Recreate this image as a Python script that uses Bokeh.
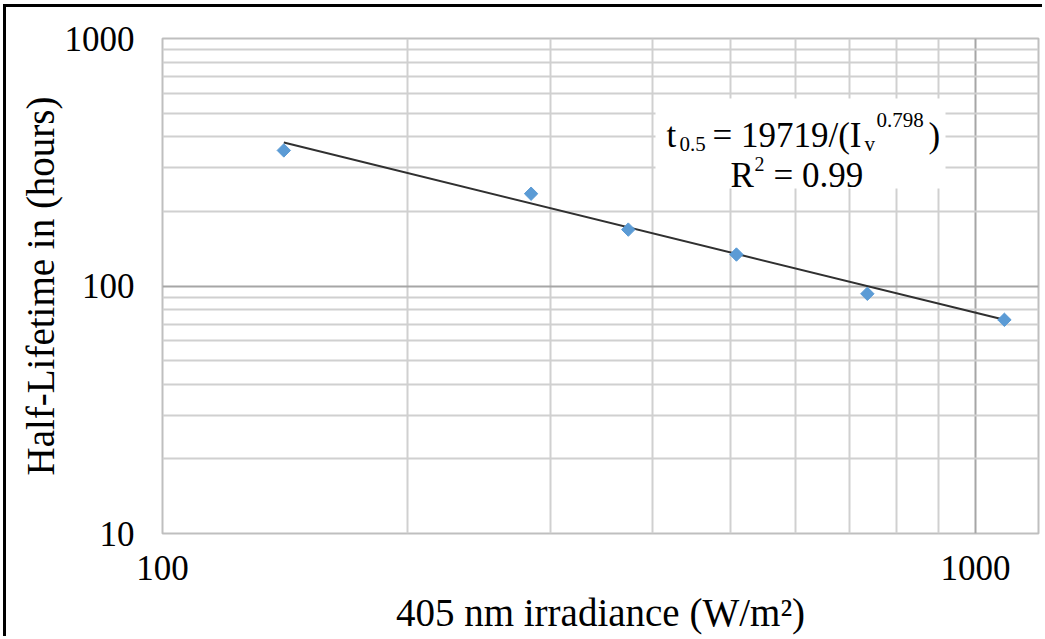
import math
from bokeh.plotting import figure
from bokeh.models import FixedTicker, BasicTickFormatter, Label, BoxAnnotation
from bokeh.embed import file_html
from bokeh.resources import INLINE

# ---- data ----
irradiance = [141, 284, 374, 508, 736, 1085]      # W/m^2
half_life = [353, 236, 169, 134, 93, 73]          # hours
trend_x = [141, 1085]
trend_y = [380, 73]

x_major = [100, 1000]
x_minor = [200, 300, 400, 500, 600, 700, 800, 900]
y_major = [10, 100, 1000]
y_minor = [20, 30, 40, 50, 60, 70, 80, 90, 200, 300, 400, 500, 600, 700, 800, 900]
x_tick_labels = ["100", "1000"]
y_tick_labels = ["10", "100", "1000"]

FONT = "Liberation Serif"

p = figure(width=1039, height=632, x_axis_type="log", y_axis_type="log",
           x_range=(100, 1195), y_range=(10, 1000),
           output_backend="svg", toolbar_location=None,
           min_border_left=156, min_border_right=7, min_border_top=31, min_border_bottom=106)
p.styles = {"border-top": "3px solid black", "border-left": "3px solid black",
            "margin-left": "3px", "margin-top": "4px"}

p.background_fill_color = "white"
p.border_fill_color = "white"
p.outline_line_color = "#bfbfbf"
p.outline_line_width = 2

for ax, ticks, minors, labels in ((p.xaxis, x_major, x_minor, x_tick_labels),
                                  (p.yaxis, y_major, y_minor, y_tick_labels)):
    ax.ticker = FixedTicker(ticks=ticks, minor_ticks=minors)
    ax.formatter = BasicTickFormatter(use_scientific=False)
    ax.major_label_overrides = {t: l for t, l in zip(ticks, labels)}
    ax.axis_line_color = None
    ax.major_tick_line_color = None
    ax.minor_tick_line_color = None
    ax.major_tick_out = 0
    ax.major_tick_in = 0
    ax.minor_tick_out = 0
    ax.minor_tick_in = 0
    ax.major_label_text_font = FONT
    ax.major_label_text_font_size = "35px"
    ax.major_label_text_color = "black"
    ax.axis_label_text_font = FONT
    ax.axis_label_text_font_size = "39px"
    ax.axis_label_text_font_style = "normal"
    ax.axis_label_text_color = "black"

p.xaxis.axis_label = "405 nm irradiance (W/m²)"
p.yaxis.axis_label = "Half-Lifetime in (hours)"
p.xaxis.major_label_standoff = 22
p.yaxis.major_label_standoff = 28
p.xaxis.axis_label_standoff = 8
p.yaxis.axis_label_standoff = 0

for g in (p.xgrid, p.ygrid):
    g.grid_line_color = "#a6a6a6"
    g.grid_line_width = 2
    g.minor_grid_line_color = "#d0d0d0"
    g.minor_grid_line_width = 2

# trend line and data
p.line(trend_x, trend_y, line_color="#303030", line_width=2)
p.scatter(irradiance, half_life, marker="square", angle=math.pi / 4, size=9.5,
          fill_color="#5B9BD5", line_color="#5B9BD5")

# equation box (screen units relative to plot frame)
p.add_layout(BoxAnnotation(left=493, right=783, bottom=345, top=435,
                           left_units="screen", right_units="screen",
                           bottom_units="screen", top_units="screen",
                           fill_color="white", fill_alpha=1.0, line_color=None))

pieces = [
    ("t", 504, 398, "35px"),
    ("0.5", 517, 390, "21px"),
    ("= 19719/(I", 550, 398, "35px"),
    ("v", 702, 390, "21px"),
    ("0.798", 714, 414, "21px"),
    (")", 766, 398, "35px"),
    ("R", 568, 358, "35px"),
    ("2", 592, 370, "20px"),
    ("= 0.99", 611, 358, "35px"),
]
for txt, sx, sy, fs in pieces:
    p.add_layout(Label(x=sx, y=sy, x_units="screen", y_units="screen", text=txt,
                       text_font=FONT, text_font_size=fs, text_color="black",
                       text_align="left", text_baseline="alphabetic"))

open("out.html", "w").write(file_html(p, INLINE))
